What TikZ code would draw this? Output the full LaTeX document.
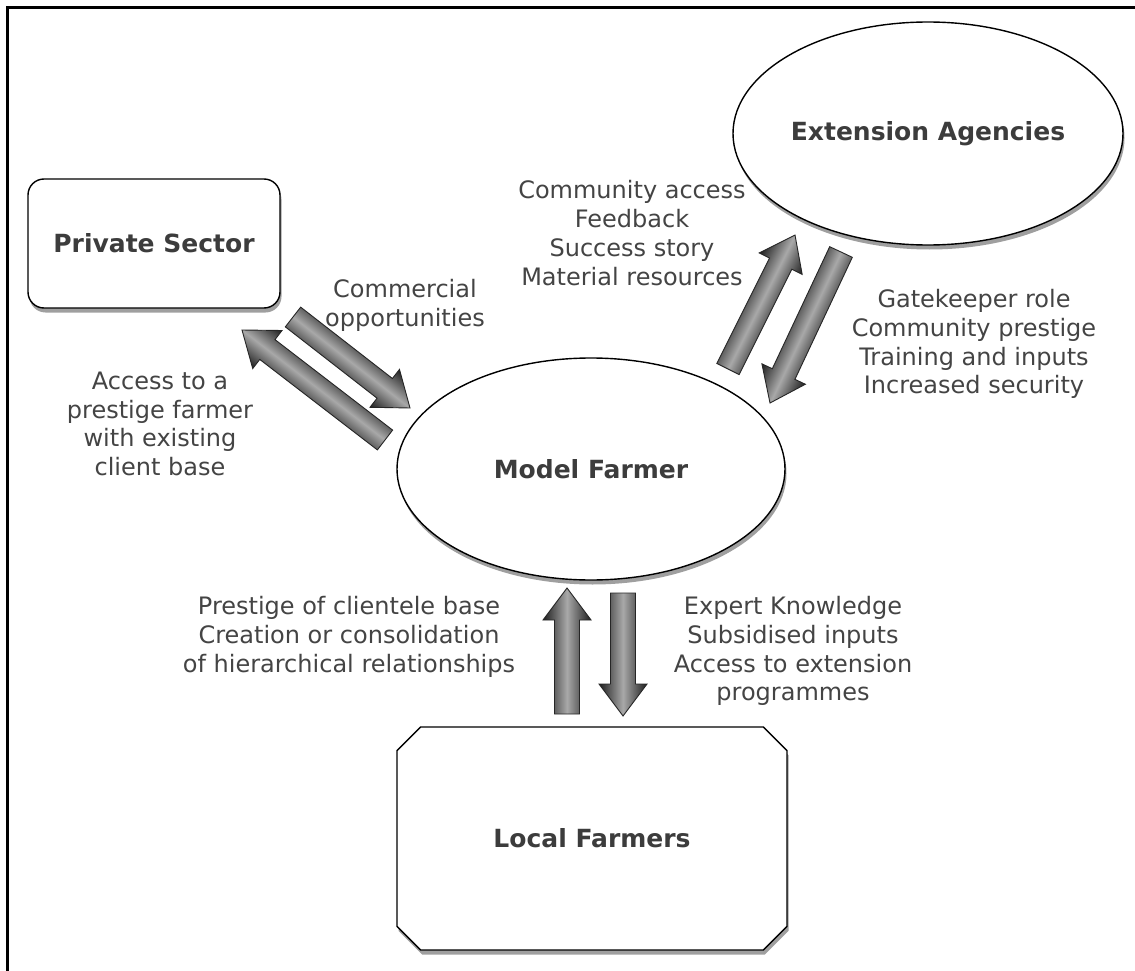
\documentclass[tikz,border=0pt]{standalone}
\usepackage{fontspec}
\setmainfont{DejaVu Sans}
\usetikzlibrary{shapes.geometric,shapes.misc,shadows,calc}

\definecolor{txt}{HTML}{444444}
\definecolor{ttl}{HTML}{3C3C3C}

% block arrow from #1 (tail) to #2 (tip); drawn along the local x axis
% of a rotated canvas so that the shading runs across the shaft
\newcommand{\blockarrow}[2]{%
  \path let \p1=($(#2)-(#1)$) in
    \pgfextra{%
      \pgfmathsetmacro\arrang{atan2(\y1,\x1)}%
      \pgfmathsetmacro\arrlen{veclen(\x1,\y1)}%
      \xdef\ArrAng{\arrang}%
      \xdef\ArrLen{\arrlen}%
      \pgfmathsetmacro\arrbase{\arrlen-32}%
      \xdef\ArrBase{\arrbase}};
  \begin{scope}[transform canvas={shift={(#1)},rotate=\ArrAng}]
    \draw[barrow] (0pt,-12.5pt) -- (\ArrBase pt,-12.5pt) -- (\ArrBase pt,-24pt)
      -- (\ArrLen pt,0pt) -- (\ArrBase pt,24pt) -- (\ArrBase pt,12.5pt) -- (0pt,12.5pt) -- cycle;
  \end{scope}
}

\begin{document}
\begin{tikzpicture}[x=1pt,y=-1pt,
  actor/.style={draw=black, line width=1.4pt, fill=white,
    drop shadow={shadow xshift=1.5pt, shadow yshift=-4.5pt, opacity=0.75},
    text=ttl, font=\fontsize{25}{30}\selectfont\bfseries, inner sep=0pt},
  oval/.style={actor, ellipse},
  label/.style={text=txt, align=center, font=\fontsize{24}{28.8}\selectfont, inner sep=0pt},
  barrow/.style={draw=black!85, line width=0.9pt, line join=miter,
    top color=black!88, bottom color=black!88, middle color=black!34},
]
\useasboundingbox (0,0) rectangle (1135,971);
\fill[white] (0,0) rectangle (1135,971);

% frame
\draw[line width=2.6pt] (7.5,975) -- (7.5,7.5) -- (1140,7.5);

% actors
\node[actor, rounded corners=16pt, minimum width=252pt, minimum height=129pt]
  (private) at (154,243.5) {Private Sector};
\node[oval, minimum width=390pt, minimum height=223pt]
  (ext) at (928,133.5) {Extension Agencies};
\node[oval, minimum width=388pt, minimum height=222pt]
  (model) at (591,469) {Model Farmer};
\node[actor, chamfered rectangle, chamfered rectangle xsep=14pt, chamfered rectangle ysep=14pt,
  minimum width=390pt, minimum height=223pt]
  (local) at (592,838.5) {Local Farmers};

% arrow end points
\coordinate (pm-s) at (293,317);   \coordinate (pm-t) at (410,408);
\coordinate (mp-s) at (385,440);   \coordinate (mp-t) at (242,330);
\coordinate (me-s) at (728,369);   \coordinate (me-t) at (795,235);
\coordinate (em-s) at (841,252);   \coordinate (em-t) at (770,403);
\coordinate (lm-s) at (567,714);   \coordinate (lm-t) at (567,588);
\coordinate (ml-s) at (623,593);   \coordinate (ml-t) at (623,716);

\blockarrow{pm-s}{pm-t}
\blockarrow{mp-s}{mp-t}
\blockarrow{me-s}{me-t}
\blockarrow{em-s}{em-t}
\blockarrow{lm-s}{lm-t}
\blockarrow{ml-s}{ml-t}

% flow labels
\node[label] (l-comm) at (405,305) {Commercial\\opportunities};
\node[label] (l-acc) at (160,424) {Access to a\\prestige farmer\\with existing\\client base};
\node[label] (l-ext-in) at (632,233) {Community access\\Feedback\\Success story\\Material resources};
\node[label] (l-ext-out) at (974,344) {Gatekeeper role\\Community prestige\\Training and inputs\\Increased security};
\node[label] (l-loc-in) at (349,637) {Prestige of clientele base\\Creation or consolidation\\of hierarchical relationships};
\node[label] (l-loc-out) at (793,651) {Expert Knowledge\\Subsidised inputs\\Access to extension\\programmes};
\end{tikzpicture}
\end{document}
